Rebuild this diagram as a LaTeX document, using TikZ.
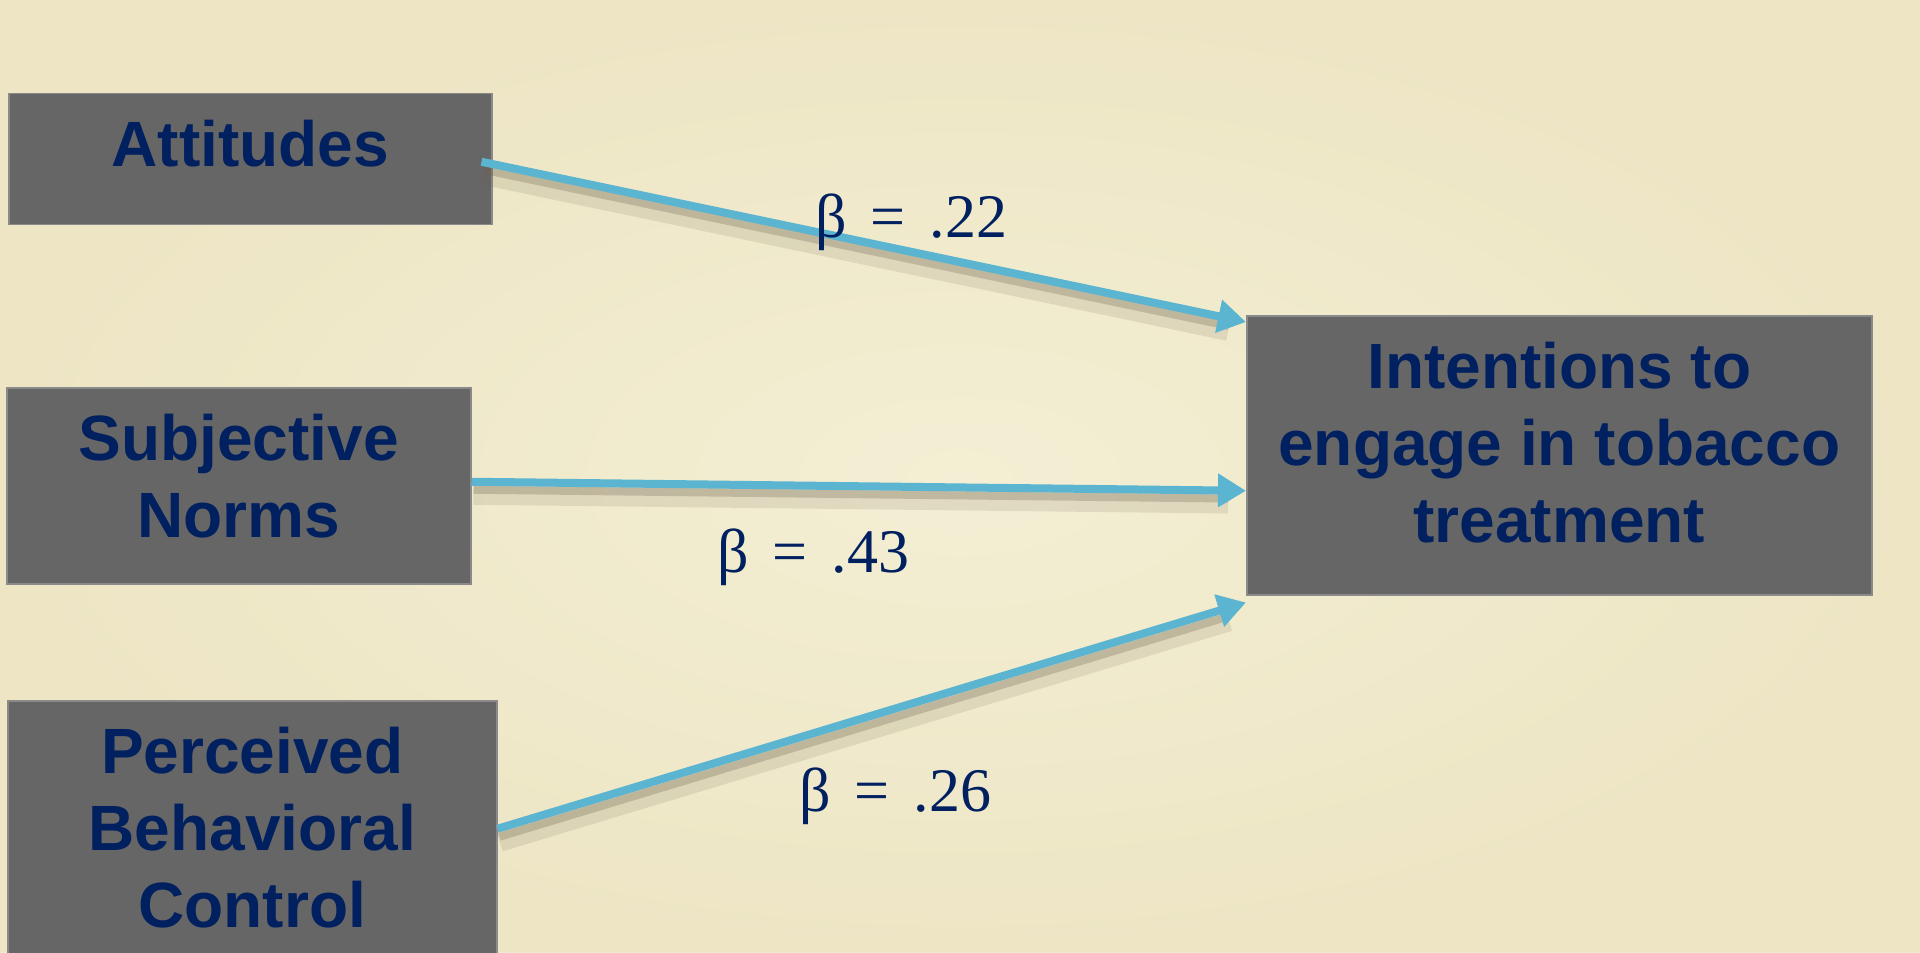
\documentclass[tikz,border=0pt]{standalone}
\usepackage{fontspec}
\setmainfont{Liberation Sans}
\newfontfamily\betafont{Liberation Serif}
\usetikzlibrary{arrows.meta}
\definecolor{bgcol}{RGB}{242,236,207}
\definecolor{bgin}{RGB}{245,240,214}
\definecolor{bgout}{RGB}{236,228,194}
\definecolor{boxfill}{RGB}{102,102,102}
\definecolor{boxline}{RGB}{138,138,138}
\definecolor{navy}{RGB}{0,32,96}
\definecolor{arrowblue}{RGB}{91,180,208}
\definecolor{shadowcol}{RGB}{110,100,80}
\newcommand\boxtext[3]{\parbox[t][#2][t]{#1}{\fontsize{32pt}{38.5pt}\selectfont\bfseries\centering\vspace*{9.5pt}\strut #3}}
\tikzset{
  boxst/.style={draw=boxline, fill=boxfill, line width=0.75pt, inner sep=0pt, text=navy, anchor=north west},
  betalbl/.style={text=navy, inner sep=0pt, anchor=base, font=\betafont\fontsize{31pt}{36pt}\selectfont},
  arrowline/.style={draw=arrowblue, line width=4pt, -{Triangle[length=14pt,width=16pt]}},
  softshadow/.style={draw=shadowcol, line width=11pt, opacity=0.14, shorten >=10pt, transform canvas={xshift=1pt,yshift=-6pt}},
  hardshadow/.style={draw=shadowcol, line width=4pt, opacity=0.28, shorten >=10pt, transform canvas={xshift=1pt,yshift=-4pt}}
}
\begin{document}
\begin{tikzpicture}[x=0.5pt,y=-0.5pt]
\useasboundingbox (0,0) rectangle (1920,952);
\clip (0,0) rectangle (1920,952);
\fill[bgcol] (0,0) rectangle (1920,952);
\shade[inner color=bgin, outer color=bgout, opacity=0.8] (0,0) rectangle (1920,952);

\node[boxst] (att) at (8,93) {\boxtext{241.5pt}{65.5pt}{Attitudes}};
\node[boxst] (sub) at (6,387) {\boxtext{232pt}{98pt}{Subjective\\Norms}};
\node[boxst] (pbc) at (7,700) {\boxtext{244.5pt}{130pt}{Perceived\\Behavioral\\Control}};
\node[boxst] (int) at (1246,315) {\boxtext{312.5pt}{139.5pt}{Intentions to\\engage in tobacco\\treatment}};

\coordinate (s1) at ([xshift=-5.5pt,yshift=-1.25pt]att.east);
\coordinate (s2) at ([yshift=2pt]sub.east);
\coordinate (s3) at ([yshift=1pt]pbc.east);
\coordinate (e1) at ([yshift=-3.5pt]int.north west);
\coordinate (e2) at ([yshift=-17.75pt]int.west);
\coordinate (e3) at ([yshift=-3.5pt]int.south west);

\foreach \a/\b in {s1/e1,s2/e2,s3/e3}{
  \draw[softshadow] (\a) -- (\b);
  \draw[hardshadow] (\a) -- (\b);
}
\draw[arrowline] (s1) -- (e1);
\draw[arrowline] (s2) -- (e2);
\draw[arrowline] (s3) -- (e3);

\node[betalbl] (b1) at (911,237) {β\hspace{12pt}=\hspace{12pt}.22};
\node[betalbl] (b2) at (813,572) {β\hspace{12pt}=\hspace{12pt}.43};
\node[betalbl] (b3) at (895,811) {β\hspace{12pt}=\hspace{12pt}.26};
\end{tikzpicture}
\end{document}
